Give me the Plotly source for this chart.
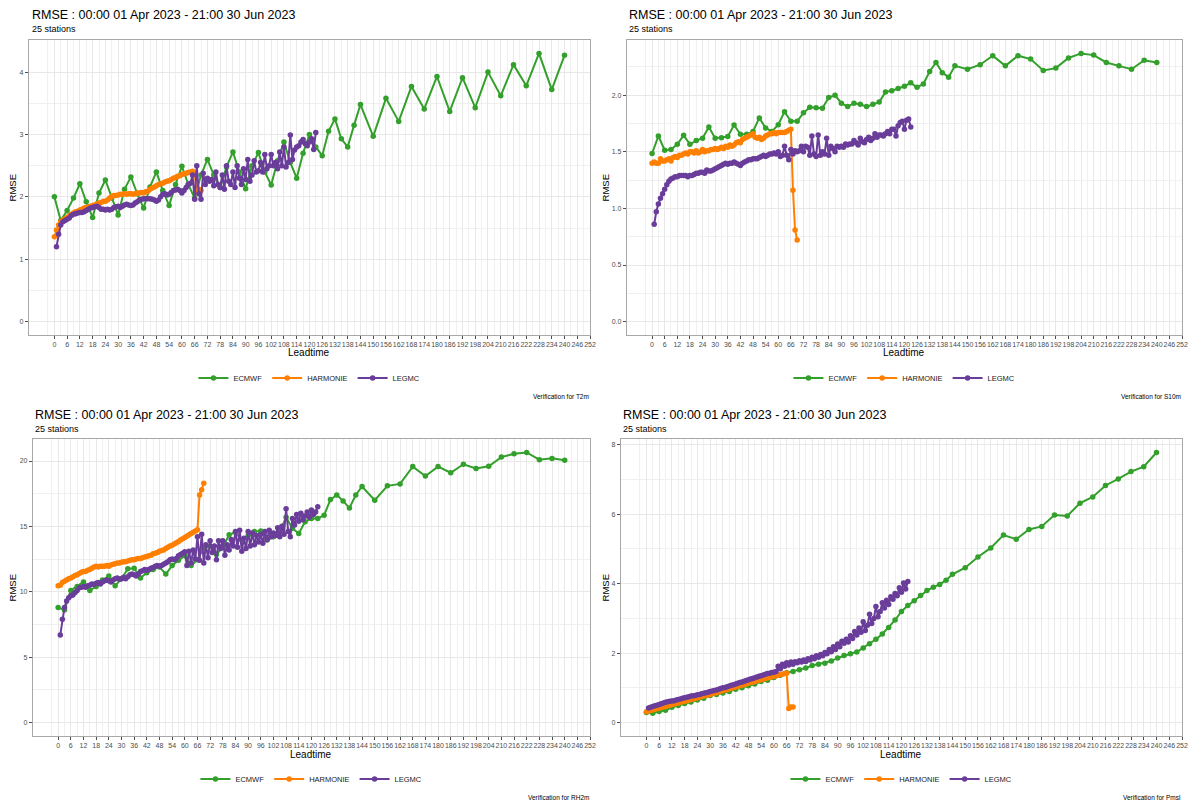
import plotly.graph_objects as go

W, H = 1193, 800

# ---------------- categories / labels ----------------
ECMWF_LT = list(range(0, 145, 3)) + list(range(150, 241, 6))
HARMONIE_LT = list(range(0, 70))
LEGMC_LT = list(range(1, 124))
MODELS = ["ECMWF", "HARMONIE", "LEGMC"]
X_TICKS = list(range(0, 253, 6))
TITLE = "RMSE : 00:00 01 Apr 2023 - 21:00 30 Jun 2023"
SUBTITLE = "25 stations"
PARAMS = ["T2m", "S10m", "RH2m", "Pmsl"]
Y_TICKS = {
    "T2m": [0, 1, 2, 3, 4],
    "S10m": [0.0, 0.5, 1.0, 1.5, 2.0],
    "RH2m": [0, 5, 10, 15, 20],
    "Pmsl": [0, 2, 4, 6, 8],
}

# ---------------- series values ----------------
t2m_ecmwf = [2.00, 1.62, 1.78, 1.98, 2.21, 1.92, 1.67, 2.06, 2.27, 1.98,
             1.71, 2.12, 2.32, 2.05, 1.82, 2.16, 2.40, 2.10, 1.86, 2.20,
             2.49, 2.20, 1.98, 2.35, 2.60, 2.35, 2.15, 2.48, 2.72, 2.40,
             2.13, 2.50, 2.71, 2.40, 2.19, 2.58, 2.88, 2.55, 2.30, 2.70,
             3.00, 2.80, 2.66, 3.05, 3.25, 2.93, 2.80, 3.15, 3.48,
             2.97, 3.58, 3.21, 3.77, 3.41, 3.93, 3.37, 3.91, 3.43, 4.00,
             3.62, 4.12, 3.78, 4.30, 3.72, 4.27]
t2m_harmonie = [1.36, 1.47, 1.55, 1.60, 1.63, 1.65, 1.67, 1.70, 1.72, 1.74,
                1.76, 1.77, 1.79, 1.80, 1.82, 1.83, 1.84, 1.85, 1.86, 1.87,
                1.89, 1.90, 1.91, 1.93, 1.93, 1.95, 1.98, 2.00, 2.02, 2.02,
                2.03, 2.04, 2.04, 2.05, 2.04, 2.05, 2.05, 2.04, 2.05, 2.06,
                2.06, 2.07, 2.06, 2.08, 2.09, 2.12, 2.14, 2.16, 2.18, 2.20,
                2.21, 2.22, 2.24, 2.25, 2.26, 2.28, 2.30, 2.31, 2.33, 2.34,
                2.36, 2.37, 2.38, 2.39, 2.40, 2.41, 2.38, 2.08, 2.12, 2.10]
t2m_legmc = [1.20, 1.40, 1.55, 1.60, 1.62, 1.64, 1.66, 1.70, 1.72, 1.73,
             1.74, 1.75, 1.75, 1.76, 1.78, 1.80, 1.82, 1.83, 1.84, 1.85,
             1.83, 1.80, 1.80, 1.79, 1.80, 1.79, 1.80, 1.83, 1.84, 1.85,
             1.83, 1.85, 1.87, 1.88, 1.87, 1.86, 1.87, 1.90, 1.92, 1.95,
             1.96, 1.97, 1.97, 1.97, 1.97, 1.96, 1.95, 1.93, 1.95, 2.00,
             2.04, 2.05, 2.03, 2.04, 2.07, 2.10, 2.11, 2.12, 2.10, 2.06,
             2.10, 2.15, 2.20, 2.22, 2.35, 1.96, 2.50, 2.05, 1.96, 2.38,
             2.20, 2.30, 2.25, 2.28, 2.18, 2.40, 2.20, 2.15, 2.35, 2.12,
             2.50, 2.25, 2.20, 2.40, 2.15, 2.50, 2.30, 2.20, 2.45, 2.28,
             2.60, 2.25, 2.35, 2.58, 2.40, 2.42, 2.55, 2.40, 2.68, 2.45,
             2.50, 2.68, 2.50, 2.55, 2.45, 2.72, 2.50, 2.80, 2.48, 2.55,
             2.99, 2.60, 2.75, 2.80, 2.82, 2.88, 2.92, 2.85, 2.82, 2.88,
             2.93, 2.76, 3.03]

s10m_ecmwf = [1.485, 1.64, 1.515, 1.52, 1.567, 1.646, 1.567, 1.60, 1.62, 1.72,
              1.62, 1.625, 1.635, 1.737, 1.655, 1.655, 1.68, 1.80, 1.71, 1.68,
              1.74, 1.855, 1.77, 1.77, 1.845, 1.895, 1.89, 1.885, 1.98, 2.00,
              1.93, 1.90, 1.93, 1.92, 1.90, 1.92, 1.94, 2.03, 2.04, 2.06,
              2.08, 2.11, 2.07, 2.10, 2.21, 2.29, 2.20, 2.16, 2.26,
              2.23, 2.27, 2.35, 2.26, 2.35, 2.32, 2.22, 2.24, 2.33, 2.37,
              2.355, 2.29, 2.26, 2.23, 2.31, 2.29]
s10m_harmonie = [1.40, 1.41, 1.40, 1.40, 1.44, 1.42, 1.42, 1.43, 1.44, 1.42,
                 1.45, 1.46, 1.45, 1.47, 1.47, 1.48, 1.49, 1.48, 1.50, 1.50,
                 1.49, 1.51, 1.49, 1.50, 1.52, 1.50, 1.51, 1.51, 1.52, 1.52,
                 1.53, 1.52, 1.53, 1.54, 1.53, 1.55, 1.54, 1.56, 1.55, 1.56,
                 1.58, 1.59, 1.58, 1.61, 1.62, 1.63, 1.64, 1.65, 1.66, 1.63,
                 1.62, 1.63, 1.61, 1.62, 1.64, 1.65, 1.66, 1.66, 1.67, 1.66,
                 1.67, 1.67, 1.67, 1.67, 1.68, 1.69, 1.70, 1.16, 0.81, 0.72]
s10m_legmc = [0.86, 0.97, 1.04, 1.09, 1.13, 1.17, 1.21, 1.24, 1.26, 1.27,
              1.28, 1.28, 1.29, 1.29, 1.29, 1.29, 1.28, 1.29, 1.29, 1.30,
              1.31, 1.31, 1.32, 1.32, 1.31, 1.34, 1.33, 1.33, 1.34, 1.35,
              1.36, 1.37, 1.38, 1.39, 1.40, 1.39, 1.40, 1.40, 1.41, 1.40,
              1.39, 1.38, 1.40, 1.41, 1.42, 1.43, 1.43, 1.44, 1.44, 1.44,
              1.45, 1.46, 1.47, 1.46, 1.47, 1.48, 1.48, 1.49, 1.48, 1.50,
              1.46, 1.47, 1.55, 1.47, 1.43, 1.52, 1.48, 1.51, 1.50, 1.51,
              1.55, 1.50, 1.55, 1.54, 1.47, 1.64, 1.48, 1.46, 1.65, 1.47,
              1.50, 1.48, 1.62, 1.47, 1.55, 1.53, 1.50, 1.55, 1.54, 1.55,
              1.54, 1.57, 1.56, 1.57, 1.57, 1.60, 1.58, 1.56, 1.62, 1.59,
              1.58, 1.61, 1.63, 1.60, 1.62, 1.66, 1.63, 1.65, 1.65, 1.64,
              1.66, 1.68, 1.66, 1.70, 1.70, 1.64, 1.73, 1.76, 1.77, 1.70,
              1.78, 1.79, 1.72]

rh2m_ecmwf = [8.80, 8.60, 10.10, 10.40, 10.75, 10.10, 10.40, 10.90, 11.20, 10.45,
              11.00, 11.75, 11.80, 11.05, 11.45, 11.70, 11.90, 11.35, 12.00, 12.40,
              12.75, 12.00, 12.45, 13.35, 13.50, 12.85, 13.40, 14.35, 14.55, 13.95,
              14.30, 14.60, 14.65, 13.95, 14.20, 14.60, 15.70, 14.85, 14.45, 15.35,
              15.60, 15.60, 15.85, 17.05, 17.40, 16.95, 16.40, 17.40, 18.05,
              17.00, 18.10, 18.25, 19.57, 18.85, 19.57, 19.10, 19.75, 19.43, 19.60,
              20.30, 20.55, 20.65, 20.10, 20.20, 20.05]
rh2m_harmonie = [10.45, 10.50, 10.70, 10.80, 10.90, 11.00, 11.05, 11.15, 11.25, 11.30,
                 11.40, 11.50, 11.55, 11.55, 11.65, 11.70, 11.80, 11.90, 11.95, 11.90,
                 11.95, 11.95, 11.95, 12.00, 11.95, 12.05, 12.10, 12.15, 12.20, 12.20,
                 12.25, 12.30, 12.30, 12.35, 12.40, 12.45, 12.45, 12.50, 12.55, 12.55,
                 12.60, 12.65, 12.70, 12.75, 12.80, 12.90, 12.95, 13.00, 13.10, 13.15,
                 13.20, 13.30, 13.40, 13.50, 13.55, 13.65, 13.75, 13.85, 13.95, 14.05,
                 14.15, 14.25, 14.35, 14.45, 14.55, 14.65, 14.75, 17.40, 17.80, 18.30]
rh2m_legmc = [6.70, 7.90, 8.80, 9.30, 9.55, 9.70, 9.75, 9.95, 10.10, 10.30,
              10.35, 10.40, 10.35, 10.45, 10.50, 10.60, 10.55, 10.65, 10.70, 10.60,
              10.75, 10.85, 10.90, 10.85, 10.75, 10.90, 11.00, 11.05, 10.95, 11.00,
              11.10, 11.00, 11.15, 11.30, 11.35, 11.30, 11.20, 11.35, 11.55, 11.60,
              11.70, 11.65, 11.70, 11.80, 11.85, 11.95, 12.00, 11.95, 12.00, 12.10,
              12.20, 12.30, 12.45, 12.50, 12.45, 12.55, 12.75, 12.85, 12.95, 13.05,
              12.00, 13.10, 12.20, 13.20, 12.50, 14.20, 12.40, 14.40, 12.20, 13.60,
              12.60, 13.90, 13.00, 13.50, 12.45, 13.90, 13.30, 13.90, 12.80, 13.60,
              13.20, 14.00, 13.50, 14.60, 13.40, 14.70, 13.10, 14.10, 13.30, 14.60,
              13.50, 14.50, 13.60, 14.30, 13.80, 14.40, 13.70, 14.60, 14.00, 14.70,
              14.20, 14.50, 14.30, 14.90, 14.20, 15.00, 14.40, 16.35, 14.60, 14.20,
              15.60, 15.10, 15.90, 15.40, 16.00, 15.50, 15.80, 16.10, 15.70, 16.25,
              15.90, 16.10, 16.50]

pmsl_ecmwf = [0.29, 0.27, 0.32, 0.35, 0.44, 0.49, 0.55, 0.59, 0.65, 0.70,
              0.78, 0.81, 0.85, 0.89, 0.96, 1.00, 1.06, 1.11, 1.18, 1.22,
              1.30, 1.36, 1.43, 1.47, 1.52, 1.57, 1.64, 1.68, 1.71, 1.77,
              1.86, 1.93, 1.98, 2.03, 2.15, 2.27, 2.40, 2.55, 2.74, 2.95,
              3.20, 3.37, 3.51, 3.66, 3.80, 3.90, 3.98, 4.10, 4.27,
              4.46, 4.77, 5.03, 5.40, 5.28, 5.56, 5.65, 5.98, 5.95, 6.32,
              6.50, 6.83, 7.02, 7.23, 7.37, 7.78]
pmsl_harmonie = [0.31, 0.33, 0.35, 0.36, 0.38, 0.40, 0.41, 0.43, 0.45, 0.46,
                 0.48, 0.50, 0.52, 0.53, 0.55, 0.56, 0.58, 0.60, 0.61, 0.63,
                 0.64, 0.66, 0.68, 0.69, 0.71, 0.73, 0.75, 0.76, 0.78, 0.79,
                 0.81, 0.83, 0.85, 0.86, 0.88, 0.90, 0.92, 0.94, 0.95, 0.97,
                 0.99, 1.01, 1.02, 1.04, 1.06, 1.08, 1.09, 1.11, 1.13, 1.15,
                 1.16, 1.18, 1.20, 1.22, 1.23, 1.25, 1.27, 1.29, 1.30, 1.32,
                 1.33, 1.35, 1.36, 1.38, 1.39, 1.41, 1.42, 0.40, 0.45, 0.45]
pmsl_legmc = [0.42, 0.44, 0.46, 0.48, 0.50, 0.52, 0.54, 0.56, 0.58, 0.60,
              0.61, 0.62, 0.63, 0.65, 0.66, 0.68, 0.70, 0.71, 0.73, 0.74,
              0.76, 0.77, 0.78, 0.80, 0.81, 0.83, 0.84, 0.86, 0.87, 0.89,
              0.91, 0.92, 0.94, 0.96, 0.98, 1.00, 1.01, 1.03, 1.05, 1.07,
              1.09, 1.11, 1.13, 1.15, 1.17, 1.19, 1.21, 1.23, 1.25, 1.27,
              1.29, 1.31, 1.33, 1.35, 1.37, 1.39, 1.41, 1.42, 1.44, 1.45,
              1.47, 1.62, 1.55, 1.68, 1.62, 1.72, 1.66, 1.74, 1.68, 1.75,
              1.72, 1.78, 1.74, 1.80, 1.76, 1.84, 1.80, 1.88, 1.84, 1.92,
              1.88, 1.96, 1.92, 2.02, 1.98, 2.10, 2.04, 2.18, 2.10, 2.26,
              2.18, 2.34, 2.28, 2.40, 2.32, 2.50, 2.42, 2.62, 2.52, 2.72,
              2.60, 2.90, 2.65, 2.80, 3.12, 2.85, 3.00, 3.34, 3.05, 3.20,
              3.45, 3.30, 3.52, 3.40, 3.62, 3.55, 3.72, 3.65, 3.88, 3.75,
              4.02, 3.85, 4.06]

SERIES = {
    "T2m": [t2m_ecmwf, t2m_harmonie, t2m_legmc],
    "S10m": [s10m_ecmwf, s10m_harmonie, s10m_legmc],
    "RH2m": [rh2m_ecmwf, rh2m_harmonie, rh2m_legmc],
    "Pmsl": [pmsl_ecmwf, pmsl_harmonie, pmsl_legmc],
}
LEADTIMES = [ECMWF_LT, HARMONIE_LT, LEGMC_LT]
for p in PARAMS:
    for lt, v in zip(LEADTIMES, SERIES[p]):
        assert len(lt) == len(v), (p, len(lt), len(v))

# ---------------- style ----------------
COLORS = ["#33a02c", "#ff7f00", "#6a3d9a"]
FONT = "Liberation Sans, Arial, Helvetica, sans-serif"
GRID = "#e8e8e8"
MINOR_GRID = "#f0f0f0"
BORDER = "#a8a8a8"
TICKFONT = dict(family=FONT, size=7, color="#4d4d4d")

# panel boxes in pixels: left, right, top, bottom ; text anchors
PANELS = {
    "T2m":  dict(l=29,  r=593,  t=40,  b=335, tx=30,  ty=15,  ytitle_x=13,  fmt=None),
    "S10m": dict(l=630, r=1188, t=40,  b=335, tx=630, ty=15,  ytitle_x=609, fmt=".1f"),
    "RH2m": dict(l=33,  r=593,  t=439, b=736, tx=33,  ty=415, ytitle_x=13,  fmt=None),
    "Pmsl": dict(l=624, r=1188, t=439, b=736, tx=624, ty=415, ytitle_x=609, fmt=None),
}


def px(x):
    return x / W


def py(y):
    return 1 - y / H


fig = go.Figure()
layout = dict(
    width=W, height=H,
    margin=dict(l=0, r=0, t=0, b=0),
    paper_bgcolor="white", plot_bgcolor="white",
    font=dict(family=FONT, color="#1a1a1a"),
    annotations=[],
    hovermode=False,
)

x_minor = [-3] + [t + 3 for t in X_TICKS]

for i, p in enumerate(PARAMS):
    n = "" if i == 0 else str(i + 1)
    box = PANELS[p]
    leg = "legend" if i == 0 else "legend" + n
    for m, (model, lt, vals) in enumerate(zip(MODELS, LEADTIMES, SERIES[p])):
        fig.add_trace(go.Scatter(
            x=lt, y=vals, mode="lines+markers", name=model,
            line=dict(color=COLORS[m], width=2),
            marker=dict(color=COLORS[m], size=5.5),
            xaxis="x" + n, yaxis="y" + n, legend=leg,
            hoverinfo="skip",
        ))
    ymax = max(max(v) for v in SERIES[p])
    yticks = Y_TICKS[p]
    step = yticks[1] - yticks[0]
    y_minor = [yticks[0] - step / 2] + [t + step / 2 for t in yticks]

    layout["xaxis" + n] = dict(
        domain=[px(box["l"]), px(box["r"])], anchor="y" + n,
        range=[-12, 252],
        tickmode="array", tickvals=X_TICKS, ticktext=[str(t) for t in X_TICKS],
        tickfont=TICKFONT, tickangle=0,
        ticks="outside", ticklen=3, tickcolor="#4d4d4d", tickwidth=0.8,
        showgrid=True, gridcolor=GRID, gridwidth=1,
        minor=dict(tickmode="array", tickvals=x_minor, showgrid=True,
                   gridcolor=MINOR_GRID, gridwidth=0.6, ticks=""),
        showline=True, mirror=True, linecolor=BORDER, linewidth=1,
        zeroline=False, fixedrange=True,
    )
    layout["yaxis" + n] = dict(
        domain=[py(box["b"]), py(box["t"])], anchor="x" + n,
        range=[-0.05 * ymax, 1.05 * ymax],
        tickmode="array", tickvals=yticks,
        ticktext=[(format(t, box["fmt"]) if box["fmt"] else str(int(t))) for t in yticks],
        tickfont=TICKFONT,
        ticks="outside", ticklen=3, tickcolor="#4d4d4d", tickwidth=0.8,
        showgrid=True, gridcolor=GRID, gridwidth=1,
        minor=dict(tickmode="array", tickvals=y_minor, showgrid=True,
                   gridcolor=MINOR_GRID, gridwidth=0.6, ticks=""),
        showline=True, mirror=True, linecolor=BORDER, linewidth=1,
        zeroline=False, fixedrange=True,
    )
    cx = (box["l"] + box["r"]) / 2
    cy = (box["t"] + box["b"]) / 2
    layout[leg] = dict(
        orientation="h", x=px(cx), y=py(box["b"] + 43),
        xanchor="center", yanchor="middle",
        font=dict(family=FONT, size=7.5, color="#1a1a1a"),
        bgcolor="rgba(0,0,0,0)", itemwidth=30, tracegroupgap=0,
        itemclick=False, itemdoubleclick=False,
    )
    ann = layout["annotations"]
    ann.append(dict(text=TITLE, x=px(box["tx"]), y=py(box["ty"]), xref="paper", yref="paper",
                    xanchor="left", yanchor="middle", showarrow=False,
                    font=dict(family=FONT, size=12.5, color="#000000")))
    ann.append(dict(text=SUBTITLE, x=px(box["tx"]), y=py(box["ty"] + 14), xref="paper", yref="paper",
                    xanchor="left", yanchor="middle", showarrow=False,
                    font=dict(family=FONT, size=9, color="#000000")))
    ann.append(dict(text="Leadtime", x=px(cx), y=py(box["b"] + 18), xref="paper", yref="paper",
                    xanchor="center", yanchor="middle", showarrow=False,
                    font=dict(family=FONT, size=10, color="#000000")))
    ann.append(dict(text="RMSE", x=px(box["ytitle_x"]), y=py(cy), xref="paper", yref="paper",
                    xanchor="center", yanchor="middle", showarrow=False, textangle=-90,
                    font=dict(family=FONT, size=9.5, color="#000000")))
    ann.append(dict(text="Verification for " + p, x=px(box["r"] + 1), y=py(box["b"] + 61),
                    xref="paper", yref="paper", xanchor="right", yanchor="middle",
                    showarrow=False, font=dict(family=FONT, size=6.5, color="#000000")))

fig.update_layout(**layout)
fig.write_html(
    "out.html",
    config={"displayModeBar": False},
    post_script="document.body.style.margin='0px';document.body.style.padding='0px';",
)
